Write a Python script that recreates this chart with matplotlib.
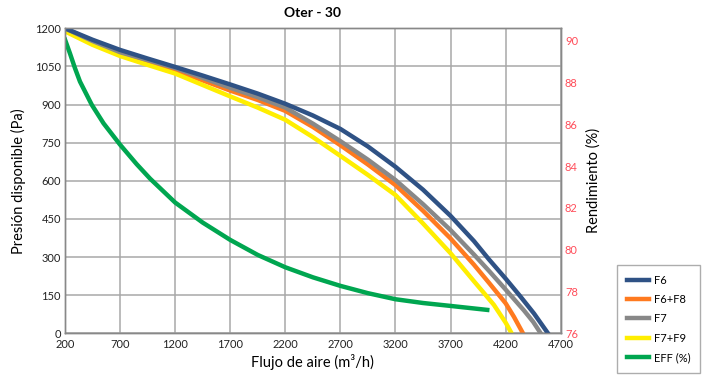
import numpy as np
import matplotlib
matplotlib.use("Agg")
import matplotlib.pyplot as plt

plt.rcParams['font.family'] = ['Lato', 'DejaVu Sans']

# values (flow m3/h, pressure Pa)
flow_f6 = [200, 450, 700, 950, 1200, 1450, 1700, 1950, 2200, 2450, 2700, 2950,
           3200, 3450, 3700, 3912, 4050, 4200, 4330, 4457, 4584]
pres_f6 = [1200, 1155, 1115, 1081, 1048, 1014, 979, 943, 903, 857, 804, 735,
           655, 565, 462, 363, 290, 215, 147, 78, 0]

flow_f6f8 = [200, 450, 700, 950, 1200, 1450, 1700, 1950, 2200, 2450, 2700, 2950,
             3200, 3450, 3700, 3912, 4050, 4200, 4275, 4357]
pres_f6f8 = [1195, 1145, 1102, 1068, 1035, 995, 955, 918, 875, 812, 740, 664,
             583, 482, 373, 270, 198, 118, 65, 0]

flow_f7 = [200, 450, 700, 950, 1200, 1450, 1700, 1950, 2200, 2450, 2700, 2950,
           3200, 3450, 3700, 3912, 4050, 4200, 4366, 4450, 4518]
pres_f7 = [1200, 1150, 1106, 1075, 1044, 1005, 966, 929, 888, 825, 756, 683,
           603, 508, 406, 310, 245, 172, 90, 45, 0]

flow_f7f9 = [200, 450, 700, 950, 1200, 1450, 1700, 1950, 2200, 2450, 2700, 2950,
             3200, 3450, 3700, 3912, 4000, 4093, 4200, 4254]
pres_f7f9 = [1188, 1135, 1091, 1056, 1022, 977, 932, 888, 840, 772, 698, 623,
             544, 432, 315, 205, 160, 112, 42, 0]

# efficiency on the right axis (%)
flow_eff = [200, 245, 290, 336, 443, 550, 700, 850, 973, 1200, 1450, 1700, 1950,
            2200, 2450, 2700, 2950, 3200, 3450, 3700, 4033]
eff = [90.06, 89.4, 88.7, 88.05, 86.94, 86.05, 85.03, 84.1, 83.4, 82.26, 81.3,
       80.47, 79.75, 79.16, 78.68, 78.27, 77.92, 77.63, 77.45, 77.31, 77.12]

x_ticks = [200, 700, 1200, 1700, 2200, 2700, 3200, 3700, 4200, 4700]
y_ticks = [0, 150, 300, 450, 600, 750, 900, 1050, 1200]
y2_ticks = [76, 78, 80, 82, 84, 86, 88, 90]

fig = plt.figure(figsize=(7.08, 3.79), dpi=100)
ax = fig.add_axes([0.0918, 0.1206, 0.7002, 0.8047])
ax2 = ax.twinx()

lw = 3.2
l1, = ax.plot(flow_f6, pres_f6, color='#2f5285', lw=lw, label='F6', solid_joinstyle='round')
l2, = ax.plot(flow_f6f8, pres_f6f8, color='#ff7a1f', lw=lw, label='F6+F8', solid_joinstyle='round')
l3, = ax.plot(flow_f7, pres_f7, color='#888888', lw=lw, label='F7', solid_joinstyle='round')
l4, = ax.plot(flow_f7f9, pres_f7f9, color='#ffee00', lw=lw, label='F7+F9', solid_joinstyle='round')
# draw blue and gray above the others like the reference
l1.set_zorder(4)
l3.set_zorder(3)
l5, = ax2.plot(flow_eff, eff, color='#00a650', lw=lw, label='EFF (%)', solid_joinstyle='round')

ax.set_xlim(200, 4700)
ax.set_ylim(0, 1200)
ax2.set_ylim(76, 90.6)
ax.set_xticks(x_ticks)
ax.set_yticks(y_ticks)
ax2.set_yticks(y2_ticks)

ax.grid(True, color='#a8a8a8', lw=1.1)
ax.set_axisbelow(True)
for a in (ax, ax2):
    for s in a.spines.values():
        s.set_color('#888888')
        s.set_linewidth(1.0)

ax.tick_params(axis='both', length=0, labelsize=8, colors='#222222', pad=3)
ax.tick_params(axis='x', pad=4)
ax2.tick_params(axis='y', length=0, labelsize=8, colors='#ff4d5a', pad=3)

ax.set_xlabel('Flujo de aire (m³/h)', fontsize=10.5, labelpad=3)
ax.set_ylabel('Presión disponible (Pa)', fontsize=10.5, labelpad=6)
ax2.set_ylabel('Rendimiento (%)', fontsize=10.5, labelpad=6)
ax.set_title('Oter - 30', fontsize=10, fontweight='bold', pad=8)

leg = fig.legend(handles=[l1, l2, l3, l4, l5], loc='lower left',
                 bbox_to_anchor=(0.8715, 0.016), borderaxespad=0, fontsize=8,
                 frameon=True, fancybox=False, edgecolor='#999999',
                 handlelength=2.0, labelspacing=0.75, borderpad=0.9,
                 handletextpad=0.4)
leg.get_frame().set_linewidth(1.0)

fig.savefig('out.png', dpi=100)
